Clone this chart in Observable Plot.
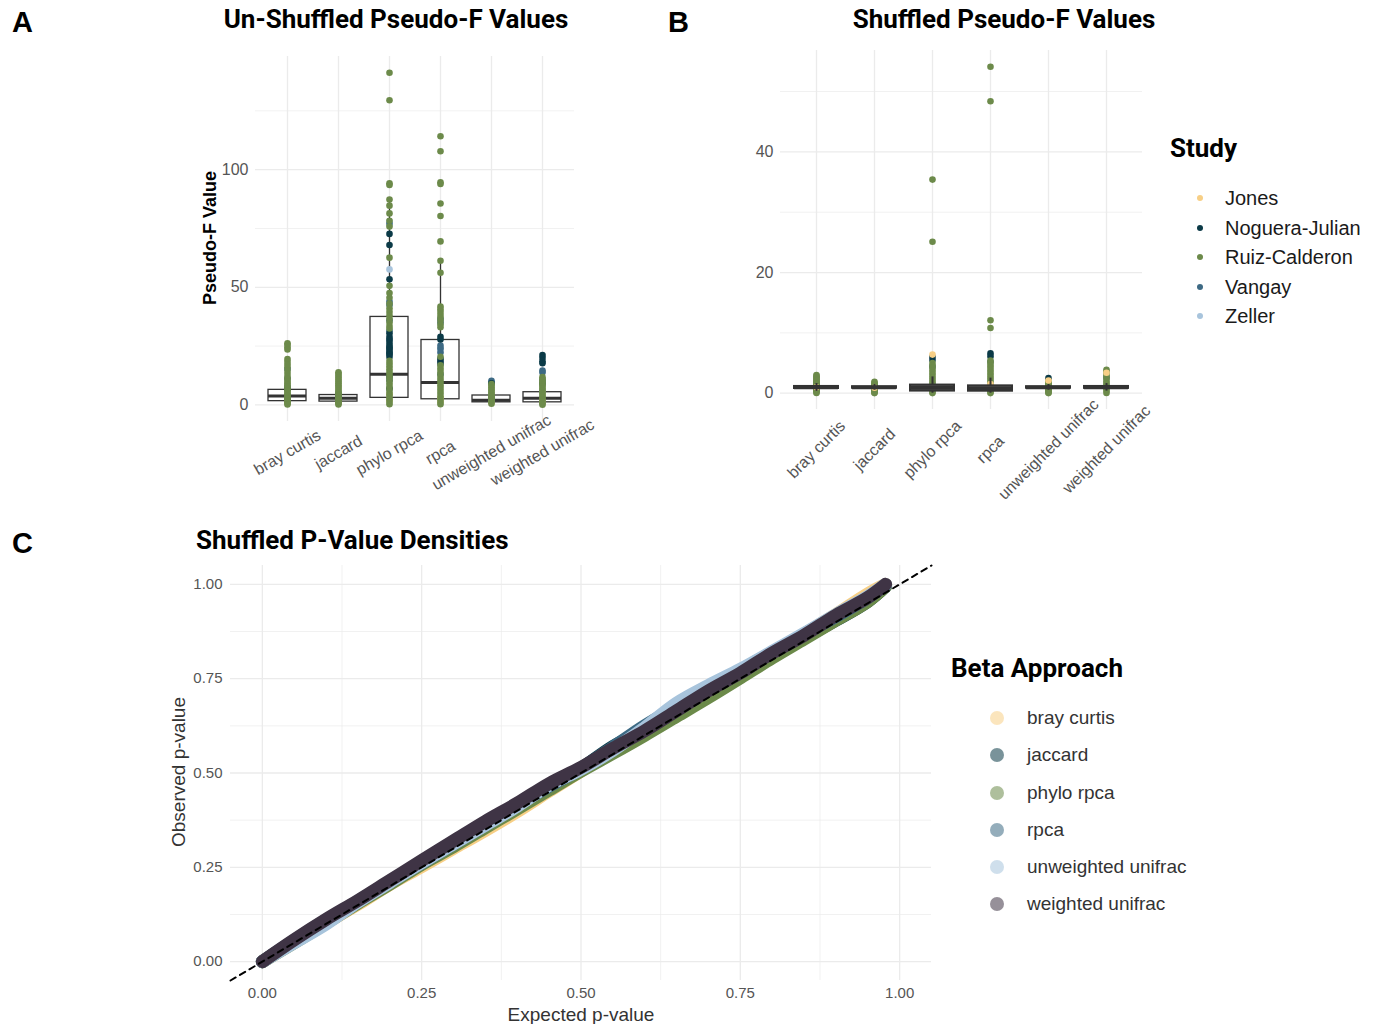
<!DOCTYPE html>
<html><head><meta charset="utf-8">
<script src="https://cdn.jsdelivr.net/npm/d3@7"></script>
<script src="https://cdn.jsdelivr.net/npm/@observablehq/plot@0.6"></script>
<style>
body{margin:0;background:#fff;}
#root{position:relative;width:1377px;height:1024px;overflow:hidden;font-family:"Liberation Sans",Arial,sans-serif;background:#fff;}
.abs{position:absolute;white-space:nowrap;}
.title{font-family:Roboto,"Liberation Sans",sans-serif;font-weight:700;font-size:26px;line-height:26px;color:#000;}
.letter{font-family:"Liberation Sans",Arial,sans-serif;font-weight:700;font-size:29px;line-height:29px;color:#000;}
.axt{font-size:19px;line-height:19px;color:#111;}
.leg{font-size:20px;line-height:20px;color:#1a1a1a;}
.leg2{font-size:19px;line-height:19px;color:#333;}
.dot{position:absolute;border-radius:50%;}
svg{overflow:visible;}
</style></head>
<body><div id="root"></div>
<script>
// ---------- shared categories ----------
const categories = ["bray curtis","jaccard","phylo rpca","rpca","unweighted unifrac","weighted unifrac"];
const studies = ["Jones","Noguera-Julian","Ruiz-Calderon","Vangay","Zeller"];
const studyColors = ["#F7CF86","#0B3A47","#6C8A4A","#3D6A84","#A8C4DC"];

// ---------- Panel A: un-shuffled pseudo-F ----------
const unshufTicks = [0, 50, 100];
const unshufMinorTicks = [25, 75, 125];
const unshufQ1 = [1.6, 1.4, 3.0, 2.4, 1.1, 1.1];
const unshufMedian = [3.8, 2.8, 13.0, 9.5, 2.0, 2.8];
const unshufQ3 = [6.4, 4.2, 37.4, 27.6, 4.0, 5.4];
const unshufLow = [0.1, 0.1, 0.2, 0.2, 0.3, 0.1];
const unshufHigh = [10.5, 8.3, 87.3, 61.3, 8.3, 11.8];
// values per category (same order as categories)
const unshufJones = [[1.5, 2.2], [1.0, 1.8], [2.0, 4.5], [1.5, 3.0], [0.8], [1.2, 2.0]];
const unshufNoguera = [
  [2.5, 4.0, 6.5], [2.0, 3.5],
  [72.7, 68.0, 53.4, 30.5, 29.0, 27.6, 26.4, 25.3, 24.4, 23.3, 22.4, 21.4, 20.4, 12.0, 7.0],
  [29.0, 27.8, 19.6, 18.6, 17.5],
  [9.2, 3.0],
  [21.2, 20.0, 18.6, 17.7, 9.0]
];
const unshufRuiz = [
  [26.2, 25.6, 24.5, 23.6, 19.5, 18.4, 17.2, 16.0, 14.5, 13.2, 12.0, 11.0, 10.0, 9.2, 8.4, 7.6, 6.8, 6.0, 5.2, 4.5, 3.8, 3.1, 2.5, 1.9, 1.3, 0.7, 0.2],
  [13.9, 13.2, 12.4, 11.6, 10.8, 10.0, 9.2, 8.4, 7.6, 6.8, 6.0, 5.2, 4.5, 3.8, 3.1, 2.5, 1.9, 1.3, 0.7, 0.2],
  [141.2, 129.5, 94.2, 93.5, 87.3, 84.7, 81.4, 78.3, 75.8, 62.6, 50.6, 47.6, 45.5, 43.0, 41.0, 39.5, 38.0, 36.5, 35.0, 33.5, 32.5, 18.8, 17.6, 16.4, 15.2, 14.0, 12.8, 11.6, 10.4, 9.2, 8.0, 6.8, 5.6, 4.5, 3.4, 2.3, 1.2, 0.3],
  [114.2, 107.8, 94.6, 93.9, 85.6, 80.3, 69.5, 61.3, 56.2, 41.8, 40.7, 39.5, 38.2, 37.0, 35.8, 34.2, 33.0, 20.5, 16.8, 15.6, 14.4, 13.2, 12.0, 10.8, 9.6, 8.4, 7.2, 6.0, 4.8, 3.6, 2.4, 1.2, 0.3],
  [8.9, 8.2, 7.5, 6.8, 6.1, 5.4, 4.7, 4.0, 3.3, 2.6, 1.9, 1.2, 0.5],
  [11.8, 11.0, 10.2, 9.4, 8.6, 7.8, 7.0, 6.2, 5.4, 4.6, 3.8, 3.0, 2.2, 1.4, 0.6, 0.1]
];
const unshufVangay = [
  [15.3, 11.2, 7.5], [5.0],
  [77.0, 43.9, 42.5, 36.0, 31.5, 28.0, 24.0, 22.0, 10.5],
  [36.5, 35.0, 25.2, 24.0, 22.3, 13.0],
  [10.3, 9.6],
  [14.6, 13.8, 10.4]
];
const unshufZeller = [[8.0], [3.0], [57.6, 78.0], [23.5], [2.0], [6.0]];

// ---------- Panel B: shuffled pseudo-F ----------
const shufTicks = [0, 20, 40];
const shufMinorTicks = [10, 30, 50];
const shufQ1 = [0.78, 0.82, 0.35, 0.33, 0.82, 0.8];
const shufMedian = [0.95, 0.95, 0.9, 0.8, 0.95, 0.95];
const shufQ3 = [1.12, 1.08, 1.35, 1.22, 1.08, 1.12];
const shufLow = [0.3, 0.5, 0.0, 0.0, 0.5, 0.35];
const shufHigh = [1.6, 1.45, 2.7, 2.5, 1.45, 1.6];
const shufJones = [[1.0], [0.9], [6.4], [1.5], [2.1], [3.4]];
const shufNoguera = [[0.5], [0.6], [6.0, 5.5], [6.6, 6.1], [2.5], [1.0]];
const shufRuiz = [
  [3.0, 2.8, 2.6, 2.4, 2.2, 2.0, 1.8, 1.6, 1.4, 1.2, 1.0, 0.8, 0.6, 0.4, 0.2, 0.05],
  [1.9, 1.7, 1.5, 1.3, 1.1, 0.9, 0.7, 0.5, 0.3, 0.1, 0.02],
  [35.4, 25.1, 5.0, 4.6, 4.2, 3.8, 3.4, 3.0, 2.6, 2.2, 1.8, 1.4, 1.0, 0.6, 0.2, 0.02],
  [54.1, 48.4, 12.1, 10.8, 5.4, 5.0, 4.6, 4.2, 3.8, 3.4, 3.0, 2.6, 2.2, 1.8, 1.4, 1.0, 0.6, 0.2, 0.02],
  [1.9, 1.7, 1.5, 1.3, 1.1, 0.9, 0.7, 0.5, 0.3, 0.1, 0.02],
  [3.9, 3.6, 3.2, 2.8, 2.4, 2.0, 1.6, 1.2, 0.8, 0.4, 0.05]
];
const shufVangay = [[1.3], [1.1], [4.4], [5.2], [1.2], [2.6]];
const shufZeller = [[0.7], [0.8], [1.5], [1.2], [0.9], [1.4]];

// ---------- Panel C: shuffled p-value QQ ----------
const approaches = ["bray curtis","jaccard","phylo rpca","rpca","unweighted unifrac","weighted unifrac"];
const approachColors = ["#F7CF86","#0B3A47","#6C8A4A","#3D6A84","#A8C4DC","#3F3445"];
const pTicks = [0, 0.25, 0.5, 0.75, 1];
const pMinorTicks = [0.125, 0.375, 0.625, 0.875];
const pTickLabels = ["0.00","0.25","0.50","0.75","1.00"];
const refLine = [-0.05, 1.05];
const expectedP = [0, 0.05, 0.1, 0.15, 0.2, 0.25, 0.3, 0.35, 0.4, 0.45, 0.5, 0.55, 0.6, 0.65, 0.7, 0.75, 0.8, 0.85, 0.9, 0.95, 0.978];
const obsBrayCurtis = [0, 0.052, 0.103, 0.152, 0.205, 0.252, 0.300, 0.348, 0.398, 0.452, 0.505, 0.560, 0.610, 0.662, 0.712, 0.762, 0.815, 0.868, 0.920, 0.975, 1.0];
const obsJaccard = [0, 0.055, 0.108, 0.158, 0.210, 0.260, 0.310, 0.360, 0.410, 0.462, 0.512, 0.570, 0.615, 0.665, 0.715, 0.760, 0.810, 0.858, 0.905, 0.955, 0.995];
const obsPhyloRpca = [0, 0.050, 0.102, 0.155, 0.205, 0.258, 0.305, 0.355, 0.405, 0.455, 0.505, 0.552, 0.600, 0.650, 0.700, 0.752, 0.805, 0.855, 0.905, 0.955, 0.995];
const obsRpca = [0, 0.056, 0.110, 0.160, 0.212, 0.262, 0.312, 0.362, 0.415, 0.465, 0.512, 0.568, 0.625, 0.675, 0.725, 0.772, 0.820, 0.868, 0.915, 0.965, 0.998];
const obsUnweighted = [0, 0.050, 0.100, 0.158, 0.210, 0.262, 0.312, 0.362, 0.412, 0.468, 0.510, 0.560, 0.620, 0.685, 0.732, 0.775, 0.822, 0.870, 0.920, 0.968, 1.0];
const obsWeighted = [0, 0.058, 0.112, 0.162, 0.215, 0.268, 0.320, 0.372, 0.420, 0.472, 0.515, 0.565, 0.612, 0.665, 0.718, 0.765, 0.818, 0.865, 0.918, 0.965, 1.0];

// ---------- helpers ----------
const root = document.getElementById("root");
const GRID = "#ebebeb";
const TICKCOL = "#555";
function place(el, left, top) {
  el.style.position = "absolute"; el.style.left = left + "px"; el.style.top = top + "px";
  root.appendChild(el);
}
function div(text, cls, left, top, extra) {
  const d = document.createElement("div");
  d.className = "abs " + cls; d.textContent = text;
  d.style.left = left + "px"; d.style.top = top + "px";
  if (extra) Object.assign(d.style, extra);
  root.appendChild(d); return d;
}
function boxRows(q1, med, q3, lo, hi) {
  return categories.map((c, i) => ({cat: c, q1: q1[i], med: med[i], q3: q3[i], lo: lo[i], hi: hi[i]}));
}
function pointRows(lists) {
  const rows = [];
  lists.forEach(([study, byCat]) => byCat.forEach((vals, ci) => vals.forEach(v => rows.push({study, cat: categories[ci], v}))));
  return rows;
}
const plotStyle = {background: "transparent", fontFamily: "'Liberation Sans', Arial, sans-serif", color: TICKCOL, overflow: "visible"};

function boxPanel({boxes, points, ticks, minor, domain, width, height, mL, mR, mT, mB, rotate, labelDy, r, boxOnTop, sw, medSw}) {
  const boxMarks = [
    Plot.ruleX(boxes, {x: "cat", y1: "lo", y2: "q1", stroke: "#333", strokeWidth: sw}),
    Plot.ruleX(boxes, {x: "cat", y1: "q3", y2: "hi", stroke: "#333", strokeWidth: sw}),
    Plot.barY(boxes, {x: "cat", y1: "q1", y2: "q3", fill: boxOnTop ? "#555" : "white", stroke: "#333", strokeWidth: sw}),
    Plot.tickY(boxes, {x: "cat", y: "med", stroke: "#333", strokeWidth: medSw})
  ];
  const dotMark = Plot.dot(points, {x: "cat", y: "v", fill: "study", r});
  return Plot.plot({
    width, height, marginLeft: mL, marginRight: mR, marginTop: mT, marginBottom: mB,
    style: plotStyle,
    x: {type: "band", domain: categories, paddingInner: 0.25, paddingOuter: 0.225, axis: null},
    y: {domain, axis: null},
    color: {domain: studies, range: studyColors},
    marks: [
      Plot.ruleY(minor, {y: d => d, stroke: GRID, strokeWidth: 0.7}),
      Plot.ruleY(ticks, {y: d => d, stroke: GRID, strokeWidth: 1.3}),
      Plot.ruleX(categories, {x: d => d, stroke: GRID, strokeWidth: 1.3}),
      ...(boxOnTop ? [dotMark, ...boxMarks] : [...boxMarks, dotMark]),
      Plot.text(ticks, {y: d => d, frameAnchor: "left", dx: -7, textAnchor: "end", fontSize: 16, fill: TICKCOL}),
      Plot.text(categories, {x: d => d, frameAnchor: "bottom", dy: labelDy, rotate, textAnchor: "middle", lineAnchor: "middle", fontSize: 16, fill: TICKCOL})
    ]
  });
}

// ---------- Panel A ----------
const plotA = boxPanel({
  boxes: boxRows(unshufQ1, unshufMedian, unshufQ3, unshufLow, unshufHigh),
  points: pointRows([["Jones", unshufJones], ["Zeller", unshufZeller], ["Vangay", unshufVangay], ["Noguera-Julian", unshufNoguera], ["Ruiz-Calderon", unshufRuiz]]),
  ticks: unshufTicks, minor: unshufMinorTicks, domain: [-7.05, 148.1],
  width: 490, height: 470, mL: 105, mR: 66, mT: 16, mB: 89, rotate: -30, labelDy: 31, r: 3.3,
  boxOnTop: false, sw: 1.3, medSw: 3
});
place(plotA, 150, 40);

// ---------- Panel B ----------
const plotB = boxPanel({
  boxes: boxRows(shufQ1, shufMedian, shufQ3, shufLow, shufHigh),
  points: pointRows([["Zeller", shufZeller], ["Vangay", shufVangay], ["Noguera-Julian", shufNoguera], ["Ruiz-Calderon", shufRuiz], ["Jones", shufJones]]),
  ticks: shufTicks, minor: shufMinorTicks, domain: [-2.7, 56.8],
  width: 480, height: 470, mL: 100, mR: 18, mT: 10, mB: 101, rotate: -45, labelDy: 40, r: 3.3,
  boxOnTop: true, sw: 2, medSw: 3.5
});
place(plotB, 680, 40);

// ---------- Panel C ----------
const obsSeries = [obsBrayCurtis, obsJaccard, obsPhyloRpca, obsRpca, obsUnweighted, obsWeighted];
const qqRows = [];
approaches.forEach((a, ai) => expectedP.forEach((e, i) => qqRows.push({approach: a, e, o: obsSeries[ai][i]})));
const plotC = Plot.plot({
  width: 800, height: 474, marginLeft: 80, marginRight: 19, marginTop: 15, marginBottom: 44,
  style: plotStyle,
  x: {domain: [-0.05, 1.05], axis: null},
  y: {domain: [-0.05, 1.05], axis: null},
  color: {domain: approaches, range: approachColors},
  marks: [
    Plot.ruleX(pMinorTicks, {x: d => d, stroke: GRID, strokeWidth: 0.7}),
    Plot.ruleY(pMinorTicks, {y: d => d, stroke: GRID, strokeWidth: 0.7}),
    Plot.ruleX(pTicks, {x: d => d, stroke: GRID, strokeWidth: 1.3}),
    Plot.ruleY(pTicks, {y: d => d, stroke: GRID, strokeWidth: 1.3}),
    Plot.line(qqRows, {x: "e", y: "o", z: "approach", stroke: "approach", strokeWidth: 13, strokeLinecap: "round", strokeLinejoin: "round", curve: "catmull-rom"}),
    Plot.line(refLine, {x: d => d, y: d => d, stroke: "#000", strokeWidth: 2, strokeDasharray: "6,5"}),
    Plot.text(pTicks, {x: d => d, text: (d, i) => pTickLabels[i], frameAnchor: "bottom", dy: 17, fontSize: 15, fill: TICKCOL}),
    Plot.text(pTicks, {y: d => d, text: (d, i) => pTickLabels[i], frameAnchor: "left", dx: -8, textAnchor: "end", fontSize: 15, fill: TICKCOL})
  ]
});
place(plotC, 150, 550);

// ---------- text: letters, titles, axis titles ----------
div("A", "letter", 12, 8);
div("B", "letter", 668, 8);
div("C", "letter", 12, 529);
div("Un-Shuffled Pseudo-F Values", "title", 396, 6, {transform: "translateX(-50%)"});
div("Shuffled Pseudo-F Values", "title", 1004, 6, {transform: "translateX(-50%)"});
div("Shuffled P-Value Densities", "title", 196, 527);
div("Pseudo-F Value", "axt", 210, 238, {fontWeight: "700", fontSize: "18px", color: "#000", transform: "translate(-50%,-50%) rotate(-90deg)"});
div("Observed p-value", "axt", 178, 772, {color: "#333", transform: "translate(-50%,-50%) rotate(-90deg)"});
div("Expected p-value", "axt", 581, 1014, {color: "#333", transform: "translate(-50%,-50%)"});

// ---------- legends ----------
div("Study", "title", 1170, 135);
const studyLegendY = [198, 228, 257, 287, 316];
studies.forEach((s, i) => {
  const d = document.createElement("div"); d.className = "dot";
  Object.assign(d.style, {left: "1197px", top: (studyLegendY[i] - 3) + "px", width: "6px", height: "6px", background: studyColors[i]});
  root.appendChild(d);
  div(s, "leg", 1225, studyLegendY[i] - 10);
});
div("Beta Approach", "title", 951, 655);
const approachLegendY = [718, 755, 793, 830, 867, 904];
approaches.forEach((a, i) => {
  const d = document.createElement("div"); d.className = "dot";
  Object.assign(d.style, {left: "990px", top: (approachLegendY[i] - 7) + "px", width: "14px", height: "14px", background: approachColors[i], opacity: 0.55});
  root.appendChild(d);
  div(a, "leg2", 1027, approachLegendY[i] - 10);
});
</script>
</body></html>
